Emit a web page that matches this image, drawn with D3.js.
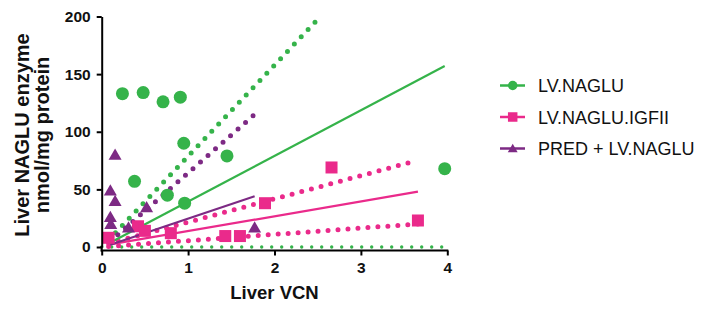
<!DOCTYPE html>
<html><head><meta charset="utf-8">
<script src="https://cdn.jsdelivr.net/npm/d3@7"></script>
<style>
html,body{margin:0;padding:0;background:#fff;}
svg{display:block;font-family:Arial,"Liberation Sans",sans-serif;}
</style></head>
<body><svg id="chart" width="705" height="309"></svg>
<script>
// ---- data ----
const seriesNames = ["LV.NAGLU", "LV.NAGLU.IGFII", "PRED + LV.NAGLU"];
const seriesColors = ["#35b34a", "#ea2a8b", "#7d2a84"];

const nagluVCN = [0.24, 0.48, 0.71, 0.91, 0.95, 0.38, 0.76, 0.96, 1.45, 3.97];
const nagluEnz = [133, 134, 126, 130, 90, 57, 45, 38, 79, 68];

const igf2VCN = [0.08, 0.42, 0.50, 0.80, 1.43, 1.60, 1.89, 2.66, 3.66];
const igf2Enz = [8, 18, 14, 12, 9.5, 9.5, 38, 69, 23];

const predVCN = [0.155, 0.10, 0.155, 0.10, 0.105, 0.31, 0.52, 1.77];
const predEnz = [80, 49, 40, 26, 20, 17, 34.5, 17];

// regression lines (solid) and confidence bands (dotted): [x, y] endpoints
const nagluFit = [[0.08, 3], [3.97, 157]];
const nagluUpper = [[0.08, 6], [2.52, 199]];
const nagluLower = [[0.0, 0], [3.97, 0]];
const igf2Fit = [[0.08, 2], [3.66, 48]];
const igf2Upper = [[0.08, 3], [3.60, 74]];
const igf2Lower = [[0.08, 0.5], [3.66, 20]];
const predFit = [[0.10, 2], [1.77, 44]];
const predUpper = [[0.10, 5], [1.77, 115]];

const xTicks = [0, 1, 2, 3, 4];
const yTicks = [0, 50, 100, 150, 200];

// ---- drawing ----
const svg = d3.select("#chart");
const x = d3.scaleLinear().domain([0, 4]).range([101.7, 447.3]);
const y = d3.scaleLinear().domain([0, 200]).range([247, 16.5]);
const line = d3.line().x(d => x(d[0])).y(d => y(d[1]));

const solid = [[nagluFit, 0], [igf2Fit, 1], [predFit, 2]];
const dotted = [[nagluUpper, 0], [nagluLower, 0], [igf2Upper, 1], [igf2Lower, 1], [predUpper, 2]];

const gLines = svg.append("g");
dotted.forEach(([pts, i]) => {
  gLines.append("path").attr("d", line(pts)).attr("fill", "none")
    .attr("stroke", seriesColors[i])
    .attr("stroke-width", pts === nagluLower ? 3.4 : 5)
    .attr("stroke-linecap", "round")
    .attr("stroke-dasharray", "0 10");
});
solid.forEach(([pts, i]) => {
  gLines.append("path").attr("d", line(pts)).attr("fill", "none")
    .attr("stroke", seriesColors[i]).attr("stroke-width", 2.2);
});

function marker(g, type, cx, cy, s, color) {
  if (type === 0) g.append("circle").attr("cx", cx).attr("cy", cy).attr("r", s / 2).attr("fill", color);
  else if (type === 1) g.append("rect").attr("x", cx - s / 2).attr("y", cy - s / 2).attr("width", s).attr("height", s).attr("fill", color);
  else {
    const h = s * 0.9;
    g.append("path").attr("d", `M${cx},${cy - h * 0.55}L${cx + s * 0.52},${cy + h * 0.45}L${cx - s * 0.52},${cy + h * 0.45}Z`).attr("fill", color);
  }
}

const gPts = svg.append("g");
nagluVCN.forEach((v, k) => marker(gPts, 0, x(v), y(nagluEnz[k]), 13, seriesColors[0]));
igf2VCN.forEach((v, k) => marker(gPts, 1, x(v), y(igf2Enz[k]), 12, seriesColors[1]));
predVCN.forEach((v, k) => marker(gPts, 2, x(v), y(predEnz[k]), 12.5, seriesColors[2]));

// axes
const yAxis = svg.append("g").attr("transform", "translate(101.7,0)")
  .call(d3.axisLeft(y).tickValues(yTicks).tickSize(5).tickSizeOuter(0).tickPadding(6).tickFormat(d3.format("d")));
const xAxis = svg.append("g").attr("transform", "translate(0,250.5)")
  .call(d3.axisBottom(x).tickValues(xTicks).tickSize(5).tickSizeOuter(0).tickPadding(6).tickFormat(d3.format("d")));
svg.append("line").attr("x1", 101.7).attr("x2", 101.7).attr("y1", 246).attr("y2", 251.5)
  .attr("stroke", "#000").attr("stroke-width", 2);
[yAxis, xAxis].forEach(a => {
  a.select(".domain").attr("stroke", "#000").attr("stroke-width", 2);
  a.selectAll(".tick line").attr("stroke", "#000").attr("stroke-width", 2);
  a.selectAll(".tick text").attr("fill", "#111").attr("font-size", 15.5).attr("font-weight", "bold")
    .attr("font-family", "Arial, 'Liberation Sans', sans-serif");
});
xAxis.select(".domain").attr("d", `M${x(0) - 1},0H${x(4) + 1}`);

// titles
svg.append("text").attr("x", 274.5).attr("y", 299).attr("text-anchor", "middle")
  .attr("font-size", 18.5).attr("font-weight", "bold").attr("fill", "#111").text("Liver VCN");
const yt = svg.append("text").attr("transform", "translate(0,135) rotate(-90)")
  .attr("text-anchor", "middle").attr("font-size", 20).attr("font-weight", "bold").attr("fill", "#111");
yt.append("tspan").attr("x", 0).attr("y", 29).text("Liver NAGLU enzyme");
yt.append("tspan").attr("x", 0).attr("y", 49).text("nmol/mg protein");

// legend
const legY = [85.5, 117, 148.5];
seriesNames.forEach((n, i) => {
  const g = svg.append("g");
  g.append("line").attr("x1", 500).attr("x2", 525).attr("y1", legY[i]).attr("y2", legY[i])
    .attr("stroke", seriesColors[i]).attr("stroke-width", 2.5);
  marker(g, i, 512.7, legY[i], 9.5, seriesColors[i]);
  g.append("text").attr("x", 538).attr("y", legY[i] + 6.5).attr("font-size", 18)
    .attr("fill", "#111").text(n);
});
</script></body></html>
